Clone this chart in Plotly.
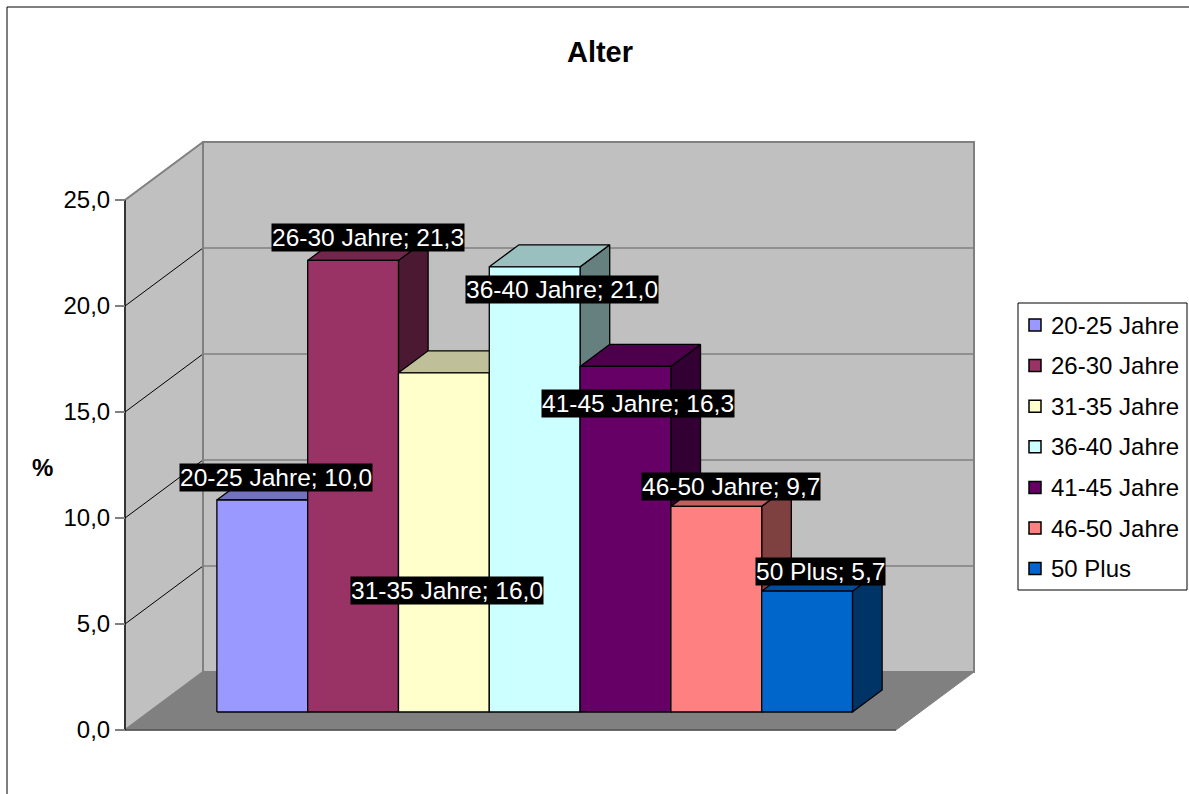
import plotly.graph_objects as go

# ---------------- data ----------------
categories = ["20-25 Jahre", "26-30 Jahre", "31-35 Jahre", "36-40 Jahre",
              "41-45 Jahre", "46-50 Jahre", "50 Plus"]
values = [10.0, 21.3, 16.0, 21.0, 16.3, 9.7, 5.7]
y_ticks = [0, 5, 10, 15, 20, 25]
y_max = 25
title_text = "Alter"
y_title = "%"

# ---------------- styles ----------------
front_colors = ["#9999FF", "#993366", "#FFFFCC", "#CCFFFF", "#660066", "#FF8080", "#0066CC"]
# label offsets relative to the top centre of each bar (value units / px)
label_dy = [0.52, 0.54, -10.8, -1.59, -2.29, 0.44, 0.43]
label_dx_px = [-1, 0, -12, 12, -2, 0, -1]

W, H = 1189, 794
FONT = "Arial, 'Liberation Sans', sans-serif"
PX_CAT = 90.8          # pixels per category
PX_VAL = 21.2          # pixels per percent
ORIGIN_X, ORIGIN_Y = 125, 730   # front-left floor corner (px)
DX = 78 / PX_CAT       # depth vector in data units
DY = 58 / PX_VAL
N = len(values)
FW = 771 / PX_CAT      # floor width
GAP = (FW - N) / 2
D0, D1 = 0.31, 0.69

# legend box (px)
LEG_X0, LEG_Y0, LEG_X1, LEG_Y1 = 1018, 303, 1187, 590
LEG_ROW0, LEG_ROW_STEP = 325, 40.6
LEG_SQ_X, LEG_SQ = 1035, 12
LEG_TEXT_X = 1049


def shade(hexcol, f):
    h = hexcol.lstrip("#")
    r, g, b = (int(h[i:i + 2], 16) for i in (0, 2, 4))
    return "#%02X%02X%02X" % (int(r * f), int(g * f), int(b * f))


fig = go.Figure()


def poly(pts, fill, line, lw=1.0):
    xs = [p[0] for p in pts] + [pts[0][0]]
    ys = [p[1] for p in pts] + [pts[0][1]]
    fig.add_trace(go.Scatter(x=xs, y=ys, mode="lines", fill="toself", fillcolor=fill,
                             line=dict(color=line, width=lw), showlegend=False,
                             hoverinfo="skip"))


def seg(x0, y0, x1, y1, color, lw=1.0):
    fig.add_trace(go.Scatter(x=[x0, x1], y=[y0, y1], mode="lines",
                             line=dict(color=color, width=lw), showlegend=False,
                             hoverinfo="skip"))


# walls and floor
poly([(0, 0), (FW, 0), (FW + DX, DY), (DX, DY)], "#808080", "#808080", 1)
poly([(DX, DY), (DX + FW, DY), (DX + FW, DY + y_max), (DX, DY + y_max)], "#C0C0C0", "#808080", 2)
poly([(0, 0), (DX, DY), (DX, DY + y_max), (0, y_max)], "#C0C0C0", "#808080", 2)
seg(0, 0, FW, 0, "#505050", 1.5)
for k in y_ticks[1:-1]:
    seg(DX, DY + k, DX + FW, DY + k, "#808080", 1.5)
    seg(0, k, DX, DY + k, "#000000", 1)
seg(DX, DY, DX, DY + y_max, "#808080", 2)
seg(0, 0, 0, y_max, "#000000", 1.2)

# bars (painter's order, left to right)
ddx = (D1 - D0) * DX
ddy = (D1 - D0) * DY
for i, v in enumerate(values):
    x0 = GAP + i + D0 * DX
    x1 = x0 + 1
    y0 = D0 * DY
    y1 = y0 + v
    c = front_colors[i]
    poly([(x1, y0), (x1 + ddx, y0 + ddy), (x1 + ddx, y1 + ddy), (x1, y1)], shade(c, 0.5), "#000000", 1.3)
    poly([(x0, y1), (x1, y1), (x1 + ddx, y1 + ddy), (x0 + ddx, y1 + ddy)], shade(c, 0.75), "#000000", 1.3)
    poly([(x0, y0), (x1, y0), (x1, y1), (x0, y1)], c, "#000000", 1.3)

# data labels
annotations = []
for i, (cat, v) in enumerate(zip(categories, values)):
    cx = GAP + i + D0 * DX + 0.5 + ddx / 2
    cy = D0 * DY + v + ddy / 2 + label_dy[i]
    annotations.append(dict(
        x=cx, y=cy, xref="x", yref="y", xshift=label_dx_px[i],
        text=f"{cat}; {v:.1f}".replace(".", ","), showarrow=False,
        font=dict(family=FONT, size=24.5, color="#FFFFFF"),
        bgcolor="#000000", borderpad=0, xanchor="center", yanchor="middle"))

annotations.append(dict(x=42 / W, y=1 - 467 / H, xref="paper", yref="paper",
                        text=f"<b>{y_title}</b>", showarrow=False,
                        font=dict(family=FONT, size=24, color="#000000"),
                        xanchor="center", yanchor="middle"))

# legend (drawn as a box with swatches and text)
shapes = [dict(type="rect", xref="paper", yref="paper", x0=7 / W, y0=1 - 7 / H,
               x1=1.02, y1=-0.02, line=dict(color="#000000", width=1), layer="above"),
          dict(type="rect", xref="paper", yref="paper",
               x0=LEG_X0 / W, x1=LEG_X1 / W, y0=1 - LEG_Y0 / H, y1=1 - LEG_Y1 / H,
               fillcolor="#FFFFFF", line=dict(color="#000000", width=1), layer="above")]
for k, (cat, c) in enumerate(zip(categories, front_colors)):
    ry = LEG_ROW0 + k * LEG_ROW_STEP
    shapes.append(dict(type="rect", xref="paper", yref="paper",
                       x0=(LEG_SQ_X - LEG_SQ / 2) / W, x1=(LEG_SQ_X + LEG_SQ / 2) / W,
                       y0=1 - (ry - LEG_SQ / 2) / H, y1=1 - (ry + LEG_SQ / 2) / H,
                       fillcolor=c, line=dict(color="#000000", width=1.5), layer="above"))
    annotations.append(dict(x=LEG_TEXT_X / W, y=1 - ry / H, xref="paper", yref="paper",
                            text=cat, showarrow=False, xanchor="left", yanchor="middle",
                            font=dict(family=FONT, size=24, color="#000000")))

fig.update_layout(
    width=W, height=H,
    margin=dict(l=0, r=0, t=0, b=0),
    paper_bgcolor="#FFFFFF", plot_bgcolor="rgba(0,0,0,0)",
    separators=",.",
    title=dict(text=f"<b>{title_text}</b>", font=dict(family=FONT, size=29, color="#000000"),
               x=600 / W, xanchor="center", xref="container",
               y=1 - 52 / H, yanchor="middle", yref="container"),
    xaxis=dict(visible=False, range=[-ORIGIN_X / PX_CAT, (W - ORIGIN_X) / PX_CAT],
               fixedrange=True, domain=[0, 1]),
    yaxis=dict(range=[-(H - ORIGIN_Y) / PX_VAL, ORIGIN_Y / PX_VAL],
               anchor="free", position=ORIGIN_X / W, automargin=False,
               tickvals=y_ticks, tickformat=".1f", ticks="outside", ticklen=10,
               tickcolor="#808080", tickwidth=1.5,
               tickfont=dict(family=FONT, size=24, color="#000000"),
               showgrid=False, zeroline=False, showline=False, fixedrange=True),
    annotations=annotations,
    shapes=shapes,
    showlegend=False,
)

fig.write_html("out.html")
